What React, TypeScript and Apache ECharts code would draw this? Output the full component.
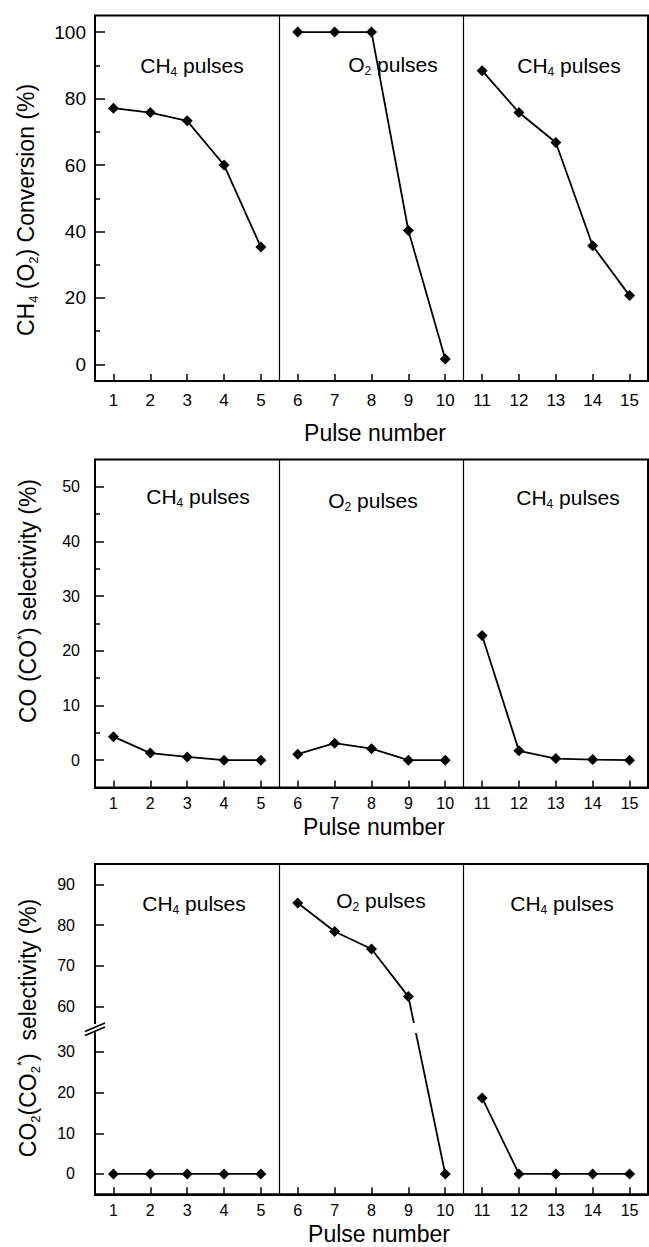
import React, { useEffect, useRef } from 'react';
import * as echarts from 'echarts';

const FONT = "'Liberation Sans', Arial, Helvetica, sans-serif";

// ---------- data ----------
const pulses = [1, 2, 3, 4, 5, 6, 7, 8, 9, 10, 11, 12, 13, 14, 15];
const conversion = [77.1, 75.8, 73.3, 60.0, 35.3, 100, 100, 100, 40.3, 1.6, 88.4, 75.8, 66.8, 35.7, 20.7];
const coSelectivity = [4.3, 1.3, 0.6, 0, 0, 1.1, 3.1, 2.1, 0, 0, 22.8, 1.7, 0.3, 0.1, 0];
const co2Selectivity = [0, 0, 0, 0, 0, 85.4, 78.4, 74.1, 62.4, 0, 18.7, 0, 0, 0, 0];
const phaseRanges = [[0, 5], [5, 10], [10, 15]];
const phaseBounds = [5.5, 10.5];
const phaseGas = [['CH', '4'], ['O', '2'], ['CH', '4']];
const topMajor = [0, 20, 40, 60, 80, 100];
const topMinor = [10, 30, 50, 70, 90];
const midMajor = [0, 10, 20, 30, 40, 50];
const midMinor = [5, 15, 25, 35, 45];
const botMajor = [0, 10, 20, 30, 60, 70, 80, 90];
const botBreak = { start: 30, end: 60, gap: 11.2 };

// ---------- layout ----------
const panels = [
  {
    values: conversion, min: -5, max: 105, major: topMajor, minor: topMinor,
    grid: { left: 95, top: 15.5, width: 553, height: 365.5 },
    yLabel: { fontSize: 19, margin: 9 }, xLabel: { fontSize: 17, margin: 11 },
    majorLen: 10, phaseY: [65, 64, 65], phaseX: [192, 393, 569],
    title: '{m|CH}{s|4}{m| (O}{s|2}{m|) Conversion (%)}', titleX: 26, titleY: 210, pulseY: 433, pulseX: 375,
  },
  {
    values: coSelectivity, min: -5, max: 55, major: midMajor, minor: midMinor,
    grid: { left: 95, top: 459.5, width: 553, height: 328 },
    yLabel: { fontSize: 16, margin: 15 }, xLabel: { fontSize: 16, margin: 8 },
    majorLen: 9, phaseY: [496, 500, 497], phaseX: [198, 373, 568],
    title: '{m|CO (CO}{p|*}{m|) selectivity (%)}', titleX: 28, titleY: 601, pulseY: 827, pulseX: 374,
  },
  {
    values: co2Selectivity, min: -5, max: 95, major: botMajor, minor: [] as number[],
    grid: { left: 95, top: 864, width: 553, height: 330.3 },
    yLabel: { fontSize: 16, margin: 20 }, xLabel: { fontSize: 16, margin: 8 },
    majorLen: 9, phaseY: [903, 900, 903], phaseX: [194, 381, 562],
    title: '{m|CO}{s|2}{m|(CO}{s|2}{p|*}{m|)  selectivity (%)}', titleX: 28, titleY: 1028, pulseY: 1234, pulseX: 379,
    breaks: [botBreak],
  },
];

function richStyles(size: number) {
  const sub = Math.round(size * 0.58);
  return {
    m: { fontSize: size, fontFamily: FONT, fill: '#000', lineHeight: size + 4 },
    s: { fontSize: sub, fontFamily: FONT, fill: '#000', lineHeight: sub, padding: [Math.round(size * 0.6), 0, 0, 0] },
    p: { fontSize: sub, fontFamily: FONT, fill: '#000', lineHeight: sub, padding: [0, 0, Math.round(size * 0.6), 0] },
  };
}

function textEl(text: string, x: number, y: number, size: number, rotation = 0) {
  return {
    type: 'text', x, y, rotation, z: 50, silent: true,
    style: {
      text, rich: richStyles(size), x: 0, y: 0,
      align: 'center', verticalAlign: 'middle', textAlign: 'center', textVerticalAlign: 'middle',
      fill: '#000', fontSize: size, fontFamily: FONT,
    },
  };
}

export default function App() {
  const ref = useRef<HTMLDivElement>(null);
  useEffect(() => {
    if (!ref.current) return;
    const chart = echarts.init(ref.current, undefined, { renderer: 'svg' });

    const grids: any[] = [];
    const xAxes: any[] = [];
    const yAxes: any[] = [];
    const series: any[] = [];
    const graphics: any[] = [];

    panels.forEach((p, i) => {
      grids.push({ ...p.grid, show: true, borderColor: '#000', borderWidth: 2, backgroundColor: 'transparent', containLabel: false });
      xAxes.push({
        type: 'value', gridIndex: i, min: 0.5, max: 15.5,
        axisLine: { show: true, onZero: false, lineStyle: { color: '#000', width: 2 } },
        axisTick: { show: true, inside: true, length: 7, customValues: pulses, lineStyle: { color: '#000', width: 1.5 } },
        axisLabel: { show: true, customValues: pulses, color: '#000', fontSize: p.xLabel.fontSize, margin: p.xLabel.margin, fontFamily: FONT },
        splitLine: { show: false },
      });
      const mainIdx = yAxes.length;
      const yMain: any = {
        type: 'value', gridIndex: i, min: p.min, max: p.max, position: 'left',
        axisLine: { show: true, onZero: false, lineStyle: { color: '#000', width: 2 } },
        axisTick: { show: true, inside: true, length: p.majorLen, customValues: p.major, lineStyle: { color: '#000', width: 1.5 } },
        axisLabel: { show: true, customValues: p.major, color: '#000', fontSize: p.yLabel.fontSize, margin: p.yLabel.margin, fontFamily: FONT },
        splitLine: { show: false },
      };
      if ((p as any).breaks) {
        yMain.breaks = (p as any).breaks;
        yMain.breakArea = { show: false };
      }
      yAxes.push(yMain);
      if (p.minor.length) {
        yAxes.push({
          type: 'value', gridIndex: i, min: p.min, max: p.max, position: 'left',
          axisLine: { show: false },
          axisTick: { show: true, inside: true, length: 5, customValues: p.minor, lineStyle: { color: '#000', width: 1.5 } },
          axisLabel: { show: false },
          splitLine: { show: false },
        });
      }
      phaseRanges.forEach(([a, b], k) => {
        const s: any = {
          type: 'line', xAxisIndex: i, yAxisIndex: mainIdx,
          data: pulses.slice(a, b).map((x, j) => [x, p.values[a + j]]),
          symbol: 'diamond', symbolSize: 11,
          lineStyle: { color: '#000', width: 1.8 },
          itemStyle: { color: '#000' },
          emphasis: { disabled: true }, silent: true,
        };
        if (k === 0) {
          s.markLine = {
            silent: true, symbol: ['none', 'none'], label: { show: false },
            lineStyle: { color: '#000', width: 1.2, type: 'solid' },
            emphasis: { disabled: true },
            data: phaseBounds.map((v) => ({ xAxis: v })),
          };
        }
        series.push(s);
        const [gas, idx] = phaseGas[k];
        graphics.push(textEl(`{m|${gas}}{s|${idx}}{m| pulses}`, p.phaseX[k], p.phaseY[k], 21));
      });
      graphics.push(textEl(p.title, p.titleX, p.titleY, 23, Math.PI / 2));
      graphics.push(textEl('{m|Pulse number}', p.pulseX, p.pulseY, 23));
    });

    // axis-break marks on the bottom panel
    graphics.push({ type: 'rect', z: 60, silent: true, shape: { x: 88, y: 1024, width: 14, height: 8 }, style: { fill: '#fff' } });
    graphics.push({ type: 'rect', z: 60, silent: true, shape: { x: 409, y: 1023, width: 12, height: 10 }, style: { fill: '#fff' } });
    graphics.push({ type: 'line', z: 61, silent: true, shape: { x1: 85, y1: 1031.5, x2: 105, y2: 1023 }, style: { stroke: '#000', lineWidth: 1.8 } });
    graphics.push({ type: 'line', z: 61, silent: true, shape: { x1: 85, y1: 1035.5, x2: 105, y2: 1027 }, style: { stroke: '#000', lineWidth: 1.8 } });

    chart.setOption({
      animation: false,
      backgroundColor: '#fff',
      grid: grids,
      xAxis: xAxes,
      yAxis: yAxes,
      series,
      graphic: { elements: graphics },
    });
    return () => chart.dispose();
  }, []);
  return <div ref={ref} style={{ position: 'absolute', left: 0, top: 0, width: 649, height: 1247 }} />;
}
